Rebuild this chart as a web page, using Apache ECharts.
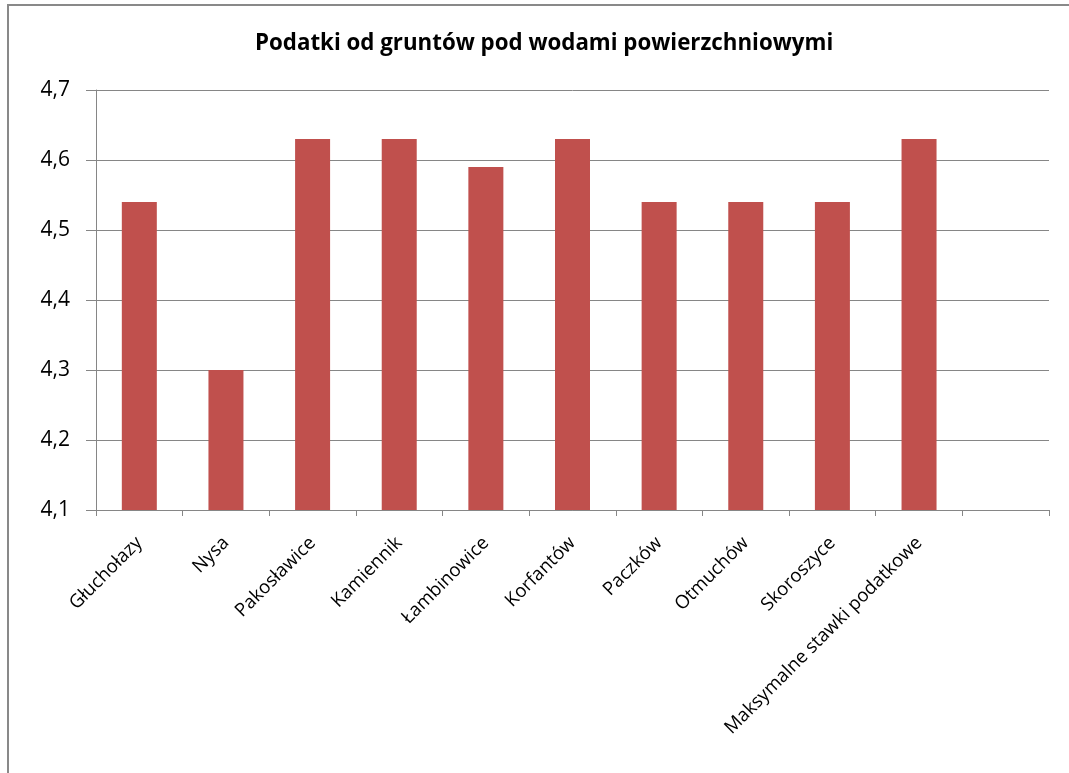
<!DOCTYPE html>
<html>
<head>
<meta charset="utf-8">
<script src="https://cdn.jsdelivr.net/npm/echarts@6/dist/echarts.min.js"></script>
<style>
  html, body { margin: 0; padding: 0; background: #fff; }
  #chart { width: 1069px; height: 773px; }
</style>
</head>
<body>
<div id="chart"></div>
<script>
const titleText = "Podatki od gruntów pod wodami powierzchniowymi";
const categories = ["Głuchołazy", "Nysa", "Pakosławice", "Kamiennik", "Łambinowice",
  "Korfantów", "Paczków", "Otmuchów", "Skoroszyce", "Maksymalne stawki podatkowe", ""];
const taxValues = [4.54, 4.30, 4.63, 4.63, 4.59, 4.63, 4.54, 4.54, 4.54, 4.63, null];
const yMin = 4.1;
const yMax = 4.7;
const yStep = 0.1;

const chart = echarts.init(document.getElementById("chart"));
const fontFamily = "'Open Sans', 'Noto Sans', sans-serif";

const option = {
  animation: false,
  backgroundColor: "#fff",
  title: {
    text: titleText,
    left: 250,
    top: 28,
    textStyle: { fontFamily: fontFamily, fontSize: 22.3, fontWeight: "bold", color: "#000" }
  },
  graphic: [
    {
      type: "rect",
      shape: { x: 8, y: 5, width: 2000, height: 2000 },
      style: { fill: "none", stroke: "#898989", lineWidth: 2 },
      silent: true
    }
  ],
  grid: { left: 96, right: 20, top: 90, bottom: 263, containLabel: false },
  xAxis: {
    type: "category",
    data: categories,
    boundaryGap: true,
    axisLine: { lineStyle: { color: "#868686", width: 1 } },
    axisTick: { show: true, alignWithLabel: false, length: 6, lineStyle: { color: "#868686" } },
    axisLabel: {
      interval: 0,
      rotate: 45,
      margin: 30,
      fontFamily: fontFamily,
      fontSize: 18.6,
      color: "#000"
    }
  },
  yAxis: {
    type: "value",
    min: yMin,
    max: yMax,
    interval: yStep,
    axisLine: { show: true, lineStyle: { color: "#868686", width: 1 } },
    axisTick: { show: true, inside: false, length: 10, lineStyle: { color: "#868686" } },
    splitLine: { show: true, lineStyle: { color: "#868686", width: 1 } },
    axisLabel: {
      margin: 26,
      fontFamily: fontFamily,
      fontSize: 21,
      color: "#000",
      formatter: function (v) { return v.toFixed(1).replace(".", ","); }
    }
  },
  series: [
    {
      name: "Podatki",
      type: "bar",
      data: taxValues,
      barWidth: 35,
      itemStyle: { color: "#C0504D" }
    }
  ]
};

chart.setOption(option);
</script>
</body>
</html>
